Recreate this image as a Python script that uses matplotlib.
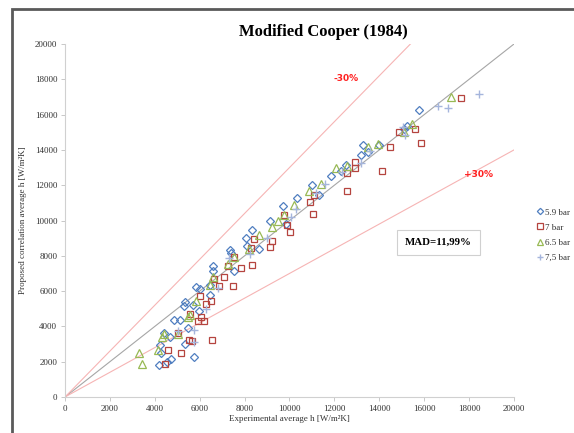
import numpy as np
import matplotlib.pyplot as plt
from matplotlib.patches import Rectangle

# measured vs. predicted heat transfer coefficient, W/m2K
exp_59 = [4200, 4280, 4220, 4420, 4740, 4560, 4690, 4840, 5130, 5330, 5310, 5330,
          5460, 5750, 5710, 5840, 6000, 5980, 6460, 6440, 6590, 6590, 7340, 7390,
          7520, 8080, 8110, 8320, 8630, 9110, 9700, 9830, 10330, 11000, 11330,
          11850, 12280, 12520, 13180, 13260, 13490, 14000, 15120, 15220, 15750]
pred_59 = [1810, 2470, 2970, 3610, 2130, 2000, 3420, 4360, 4380, 5370, 5180, 3000,
           3910, 2290, 5210, 6250, 6120, 4890, 5800, 6350, 7400, 7140, 8330, 8160,
           7120, 9030, 8540, 9450, 8390, 9960, 10800, 9800, 11260, 12010, 11470,
           12520, 12790, 13130, 13710, 14280, 13870, 14260, 15210, 15360, 16250]

exp_7 = [4460, 4610, 5020, 5150, 5540, 5640, 6000, 5580, 5920, 6080, 6210, 6280,
         6520, 6560, 6620, 6880, 7100, 7260, 7470, 7540, 7860, 8310, 8400, 8270,
         9140, 9200, 9760, 9880, 10020, 10910, 11050, 11100, 12540, 12570, 12900,
         12900, 14110, 14490, 14880, 15570, 15840, 17640]
pred_7 = [1870, 2640, 3610, 2490, 3230, 3190, 5720, 4690, 4310, 4550, 4290, 5270,
          5420, 3250, 6690, 6310, 6820, 7400, 6310, 7930, 7310, 7460, 8940, 8440,
          8500, 8820, 10310, 9750, 9330, 11050, 10370, 11470, 11670, 12680, 12960,
          13300, 12830, 14190, 15040, 15190, 14380, 16920]

exp_65 = [3290, 3430, 4150, 4320, 4430, 5020, 5460, 5560, 5820, 6480, 6600, 7280,
          7540, 8190, 8650, 9200, 9500, 9760, 10200, 10860, 11400, 12080, 12540,
          13500, 13950, 15110, 15470, 17180]
pred_65 = [2510, 1870, 2660, 3420, 3570, 3570, 4520, 4630, 5420, 6370, 6780, 7540,
           7920, 8410, 9160, 9650, 9990, 10330, 10900, 11690, 12070, 12960, 13110,
           14150, 14340, 15000, 15490, 16980]

exp_75 = [5020, 5740, 5760, 6280, 6830, 7290, 8240, 9010, 10070, 10270, 11170,
          11560, 12360, 13180, 13590, 15060, 15140, 16600, 17040, 18430]
pred_75 = [3760, 3800, 3100, 4990, 6200, 7880, 8090, 9010, 10220, 10650, 11540,
           12070, 12730, 13260, 13960, 15280, 14870, 16470, 16400, 17150]

band = 0.30
limit = 20000
ticks = np.arange(0, 20001, 2000)

plt.rcParams['font.family'] = ['Liberation Serif', 'DejaVu Serif']

fig = plt.figure(figsize=(5.74, 4.33), dpi=100)
ax = fig.add_axes([0.1132, 0.0831, 0.7823, 0.8153])

# outer frame around the chart area
fig.patches.append(Rectangle((12 / 574, -0.1), 1.2, 1 - 9 / 433 + 0.1,
                             transform=fig.transFigure, fill=False,
                             edgecolor='#5a5a5a', linewidth=2))

# 1:1 line and +/-30% band
ax.plot([0, limit], [0, limit], color='#a6a6a6', linewidth=0.8, zorder=1)
ax.plot([0, limit / (1 + band)], [0, limit], color='#f6b4b4', linewidth=0.8, zorder=1)
ax.plot([0, limit], [0, limit * (1 - band)], color='#f6b4b4', linewidth=0.8, zorder=1)

ax.plot(exp_59, pred_59, linestyle='none', marker='D', markersize=4,
        markerfacecolor='none', markeredgecolor='#4f7ec0', markeredgewidth=0.9,
        label='5.9 bar', zorder=3)
ax.plot(exp_7, pred_7, linestyle='none', marker='s', markersize=5,
        markerfacecolor='none', markeredgecolor='#b5443f', markeredgewidth=0.9,
        label='7 bar', zorder=3)
ax.plot(exp_65, pred_65, linestyle='none', marker='^', markersize=5.5,
        markerfacecolor='none', markeredgecolor='#98b954', markeredgewidth=0.9,
        label='6.5 bar', zorder=3)
ax.plot(exp_75, pred_75, linestyle='none', marker='+', markersize=6,
        markeredgecolor='#a5b5dc', markeredgewidth=1.0,
        label='7,5 bar', zorder=3)

ax.text(12540, 18060, '-30%', color='#ff2020', fontsize=6.5, fontweight='bold',
        ha='center', va='center', family=['DejaVu Sans'])
ax.text(18410, 12600, '+30%', color='#ff2020', fontsize=6.5, fontweight='bold',
        ha='center', va='center', family=['DejaVu Sans'])

ax.text(16630, 8770, 'MAD=11,99%', fontsize=7.8, fontweight='bold',
        ha='center', va='center',
        bbox=dict(boxstyle='square,pad=0.75', facecolor='white',
                  edgecolor='#d0d0d0', linewidth=0.8))

ax.set_xlim(0, limit)
ax.set_ylim(0, limit)
ax.set_xticks(ticks)
ax.set_yticks(ticks)
ax.tick_params(labelsize=6.5, length=3, width=0.6, color='#bfbfbf',
               labelcolor='#333333', pad=2.5)
for side in ('top', 'right'):
    ax.spines[side].set_visible(False)
for side in ('left', 'bottom'):
    ax.spines[side].set_color('#d0d0d0')
    ax.spines[side].set_linewidth(0.8)

ax.set_xlabel('Experimental average h [W/m²K]', fontsize=6.5, color='#333333',
              labelpad=2)
ax.set_ylabel('Proposed correlation average h [W/m²K]', fontsize=6.5,
              color='#333333', labelpad=6)

fig.text(323 / 574, 1 - 32 / 433, 'Modified Cooper (1984)', fontsize=12,
         fontweight='bold', ha='center', va='center')

ax.legend(loc='center left', bbox_to_anchor=(0.93, 1 - 235 / 433),
          bbox_transform=fig.transFigure, frameon=False, fontsize=6.5,
          handlelength=0.6, handletextpad=0.2, borderaxespad=0,
          labelspacing=0.75, markerscale=0.8, labelcolor='#333333')

plt.savefig('out.png', dpi=100)
